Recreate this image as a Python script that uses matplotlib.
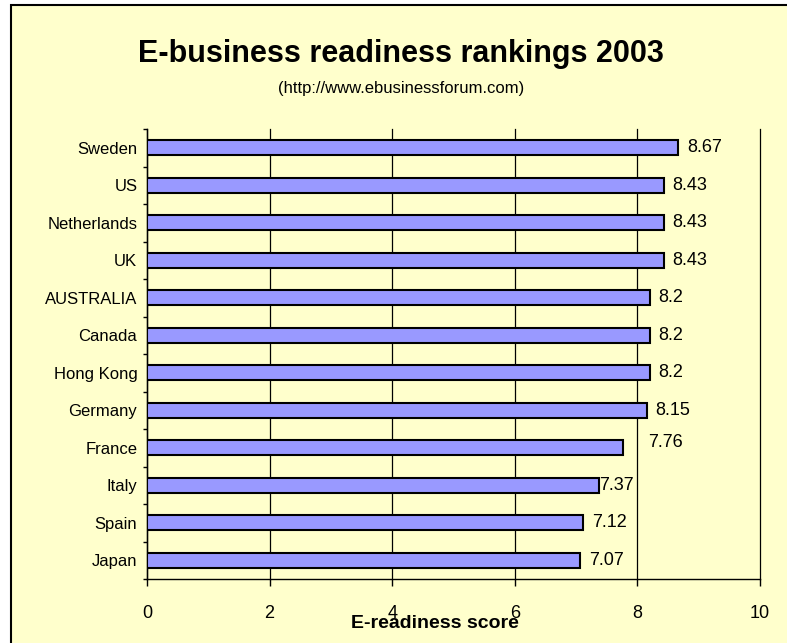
import matplotlib
matplotlib.use("Agg")
import matplotlib.pyplot as plt
from matplotlib.patches import Rectangle

countries = ["Sweden", "US", "Netherlands", "UK", "AUSTRALIA", "Canada",
             "Hong Kong", "Germany", "France", "Italy", "Spain", "Japan"]
scores = [8.67, 8.43, 8.43, 8.43, 8.2, 8.2, 8.2, 8.15, 7.76, 7.37, 7.12, 7.07]
x_ticks = [0, 2, 4, 6, 8, 10]

# label nudges (points) copied from the original layout
label_shift = {"France": (18, 4), "Italy": (0, 0)}

plt.rcParams['font.family'] = ['Liberation Sans', 'DejaVu Sans']

bg = '#FFFFCC'
fig = plt.figure(figsize=(7.87, 6.43), dpi=100, facecolor='white')
top = 1 - 4.5 / 643
frame = Rectangle((11 / 787, -0.2), 1.2, top + 0.2, transform=fig.transFigure,
                  facecolor=bg, edgecolor='black', linewidth=1.5, zorder=-10)
fig.patches.append(frame)

ax = fig.add_axes([147 / 787, 1 - 579 / 643, 613 / 787, 450 / 643])
ax.patch.set_visible(False)

ypos = list(range(len(countries)))
ax.barh(ypos, scores, height=0.4, color='#9999FF', edgecolor='black', linewidth=1.5, zorder=3)

for i, (name, val) in enumerate(zip(countries, scores)):
    dx, dy = label_shift.get(name, (6, 0))
    ax.annotate(f"{val:g}", (val, i), xytext=(dx, dy), textcoords='offset points',
                va='center', ha='left', fontsize=13)

ax.set_xlim(0, 10)
ax.set_ylim(len(countries) - 0.5, -0.5)
ax.set_xticks(x_ticks)
ax.set_xticklabels([str(t) for t in x_ticks], fontsize=13)
ax.set_yticks(ypos)
ax.set_yticklabels(countries, fontsize=12)
ax.tick_params(axis='y', length=0, pad=7)
ax.set_yticks([k - 0.5 for k in range(len(countries) + 1)], minor=True)
ax.tick_params(axis='y', which='minor', length=3, width=1)
ax.tick_params(axis='x', length=5, width=1, pad=14)
ax.xaxis.grid(True, color='black', linewidth=0.9, zorder=1)
ax.set_axisbelow(True)
for gl in ax.get_xgridlines():
    gl.set_clip_on(False)

for side in ['top', 'right']:
    ax.spines[side].set_visible(False)
ax.spines['left'].set_linewidth(1.0)
ax.spines['bottom'].set_linewidth(1.0)

ax.set_xlabel("E-readiness score", fontsize=14, fontweight='bold')
ax.xaxis.set_label_coords(0.47, -0.08)

fig.text(0.51, 1 - 62 / 643, "E-business readiness rankings 2003", ha='center', va='baseline',
         fontsize=22, fontweight='bold')
fig.text(0.51, 1 - 88 / 643, "(http://www.ebusinessforum.com)", ha='center', va='center',
         fontsize=12)

fig.savefig("out.png", dpi=100, facecolor='white')
